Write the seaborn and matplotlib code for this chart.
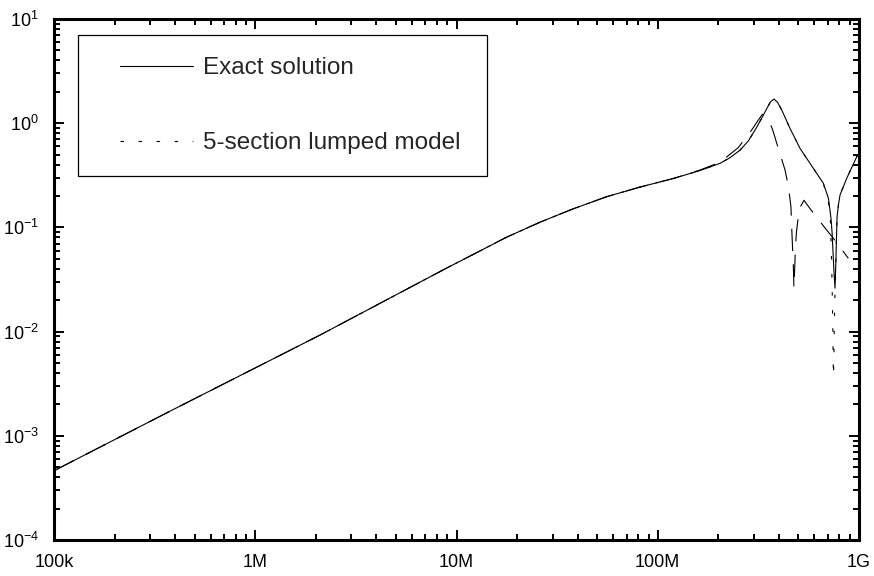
import matplotlib
matplotlib.use("Agg")
import matplotlib.pyplot as plt
from matplotlib import font_manager
from matplotlib.legend_handler import HandlerLine2D
from matplotlib.ticker import FixedLocator, FixedFormatter, NullFormatter, LogLocator
import seaborn as sns
import pandas as pd

# ---------------- data ----------------
exact_freq = [1.00e5, 3.92e5, 2.10e6, 8.93e6, 1.21e7, 1.77e7, 2.60e7, 3.80e7, 5.57e7,
              8.17e7, 1.19e8, 1.62e8, 2.04e8, 2.29e8, 2.56e8, 2.82e8, 3.10e8, 3.31e8,
              3.48e8, 3.63e8, 3.78e8, 3.94e8, 4.13e8, 4.54e8, 5.09e8, 5.93e8, 6.65e8,
              7.05e8, 7.26e8, 7.35e8, 7.52e8, 7.60e8, 7.67e8, 7.73e8, 7.78e8, 7.91e8,
              8.05e8, 8.69e8, 9.75e8, 1.00e9]
exact_mag = [4.62e-4, 1.79e-3, 9.27e-3, 0.0407, 0.0550, 0.0804, 0.1122, 0.1507, 0.197,
             0.244, 0.294, 0.351, 0.412, 0.468, 0.550, 0.676, 0.912, 1.148,
             1.380, 1.603, 1.706, 1.585, 1.34, 0.893, 0.574, 0.369, 0.265,
             0.190, 0.122, 0.0891, 0.0355, 0.0261, 0.0447, 0.0794, 0.126, 0.166,
             0.205, 0.296, 0.478, 0.501]

lumped_freq = [1.00e5, 3.92e5, 2.10e6, 8.93e6, 1.21e7, 1.77e7, 2.60e7, 3.80e7, 5.57e7,
               8.17e7, 1.19e8, 1.62e8, 2.04e8, 2.29e8, 2.56e8, 2.82e8, 3.10e8, 3.31e8,
               3.48e8, 3.63e8, 3.78e8, 3.94e8, 4.13e8, 4.54e8, 5.09e8, 5.93e8, 6.65e8,
               7.05e8, 7.21e8, 7.28e8, 7.36e8, 7.41e8, 7.46e8, 7.50e8, 7.53e8, 7.57e8,
               7.64e8, 7.73e8, 7.78e8, 7.91e8, 8.05e8, 8.69e8, 9.75e8, 1.00e9]
lumped_mag = [4.62e-4, 1.79e-3, 9.27e-3, 0.0407, 0.0550, 0.0804, 0.1122, 0.1507, 0.197,
              0.244, 0.294, 0.351, 0.412, 0.468, 0.550, 0.676, 0.912, 1.148,
              1.380, 1.603, 1.706, 1.585, 1.34, 0.893, 0.574, 0.369, 0.265,
              0.174, 0.1175, 0.0631, 0.0251, 0.0107, 0.00372, 0.00501, 0.0100, 0.0174,
              0.0355, 0.0794, 0.126, 0.166, 0.205, 0.296, 0.478, 0.501]

other_freq = [1.00e5, 3.92e5, 2.10e6, 8.93e6, 1.21e7, 1.77e7, 2.60e7, 3.80e7, 5.57e7,
              8.17e7, 1.19e8, 1.62e8, 2.04e8, 2.51e8, 2.93e8, 3.16e8, 3.31e8, 3.47e8,
              3.61e8, 3.75e8, 3.97e8, 4.29e8, 4.46e8, 4.59e8, 4.63e8, 4.68e8, 4.72e8,
              4.75e8, 4.79e8, 4.83e8, 4.89e8, 5.05e8, 5.33e8, 5.66e8, 6.70e8, 7.46e8,
              8.85e8]
other_mag = [4.62e-4, 1.79e-3, 9.27e-3, 0.0407, 0.0550, 0.0804, 0.1122, 0.1507, 0.197,
             0.244, 0.294, 0.355, 0.422, 0.582, 0.861, 1.072, 1.216, 1.135,
             1.012, 0.828, 0.574, 0.356, 0.246, 0.158, 0.100, 0.0607, 0.0420,
             0.0261, 0.0398, 0.0631, 0.0912, 0.151, 0.182, 0.155, 0.1016, 0.0785,
             0.0505]

series_labels = ["Exact solution", "5-section lumped model"]
xtick_values = [1e5, 1e6, 1e7, 1e8, 1e9]
xtick_labels = ["100k", "1M", "10M", "100M", "1G"]
ytick_values = [1e-4, 1e-3, 1e-2, 1e-1, 1e0, 1e1]
ytick_labels = [r"$\mathdefault{10^{-4}}$", r"$\mathdefault{10^{-3}}$", r"$\mathdefault{10^{-2}}$",
                r"$\mathdefault{10^{-1}}$", r"$\mathdefault{10^{0}}$", r"$\mathdefault{10^{1}}$"]

# ---------------- style ----------------
sns.set_style("ticks")
names = {f.name for f in font_manager.fontManager.ttflist}
if "Liberation Sans Narrow" in names:
    fam = ["Liberation Sans Narrow", "DejaVu Sans"]
    tick_fs, leg_fs = 14, 19.5
else:
    fam = ["Liberation Sans", "DejaVu Sans"]
    tick_fs, leg_fs = 13, 17.5
plt.rcParams["font.family"] = fam
plt.rcParams["mathtext.default"] = "regular"
plt.rcParams["lines.scale_dashes"] = False

fig = plt.figure(figsize=(8.74, 5.76), dpi=100)
ax = fig.add_axes([54 / 874, 1 - 540 / 576, 805 / 874, 521 / 576])

df_exact = pd.DataFrame({"f": exact_freq, "m": exact_mag})
df_lumped = pd.DataFrame({"f": lumped_freq, "m": lumped_mag})
df_other = pd.DataFrame({"f": other_freq, "m": other_mag})

sns.lineplot(data=df_exact, x="f", y="m", ax=ax, color="black", linewidth=0.8,
             estimator=None, sort=False, label=series_labels[0])
sns.lineplot(data=df_lumped, x="f", y="m", ax=ax, color="black", linewidth=0.8,
             linestyle=(0, (2.5, 10.5)), estimator=None, sort=False, label=series_labels[1])
sns.lineplot(data=df_other, x="f", y="m", ax=ax, color="black", linewidth=0.8,
             linestyle=(0, (16, 9.5)), estimator=None, sort=False, label="_nolegend_")

ax.set_xscale("log")
ax.set_yscale("log")
ax.set_xlim(1e5, 1e9)
ax.set_ylim(1e-4, 1e1)
ax.set_xlabel("")
ax.set_ylabel("")

ax.xaxis.set_major_locator(FixedLocator(xtick_values))
ax.xaxis.set_major_formatter(FixedFormatter(xtick_labels))
ax.yaxis.set_major_locator(FixedLocator(ytick_values))
ax.yaxis.set_major_formatter(FixedFormatter(ytick_labels))
ax.xaxis.set_minor_locator(LogLocator(base=10, subs=range(2, 10), numticks=20))
ax.yaxis.set_minor_locator(LogLocator(base=10, subs=range(2, 10), numticks=20))
ax.xaxis.set_minor_formatter(NullFormatter())
ax.yaxis.set_minor_formatter(NullFormatter())

ax.tick_params(which="both", direction="in", top=True, right=True, color="black",
               width=1.4, labelsize=tick_fs, labelcolor="black")
ax.tick_params(which="major", length=7.5)
ax.tick_params(which="minor", length=4.3)
ax.tick_params(axis="x", which="major", pad=10)
ax.tick_params(axis="y", which="major", pad=11)
for s in ax.spines.values():
    s.set_visible(True)
    s.set_linewidth(2.2)
    s.set_color("black")

fs_px = leg_fs * 100 / 72
bp = 22 / fs_px
leg = ax.legend(loc="upper left",
                bbox_to_anchor=(24 / 805, 365 / 521, 409 / 805, 140 / 521),
                mode="expand", borderaxespad=0, fontsize=leg_fs,
                frameon=True, fancybox=False, shadow=False, framealpha=1,
                edgecolor="black", borderpad=bp, labelspacing=53 / fs_px,
                handlelength=93 / fs_px, handletextpad=10 / fs_px,
                handler_map={plt.Line2D: HandlerLine2D(xpad=20 / fs_px)})
leg.get_frame().set_linewidth(0.9)

fig.savefig("out.png", dpi=100)
